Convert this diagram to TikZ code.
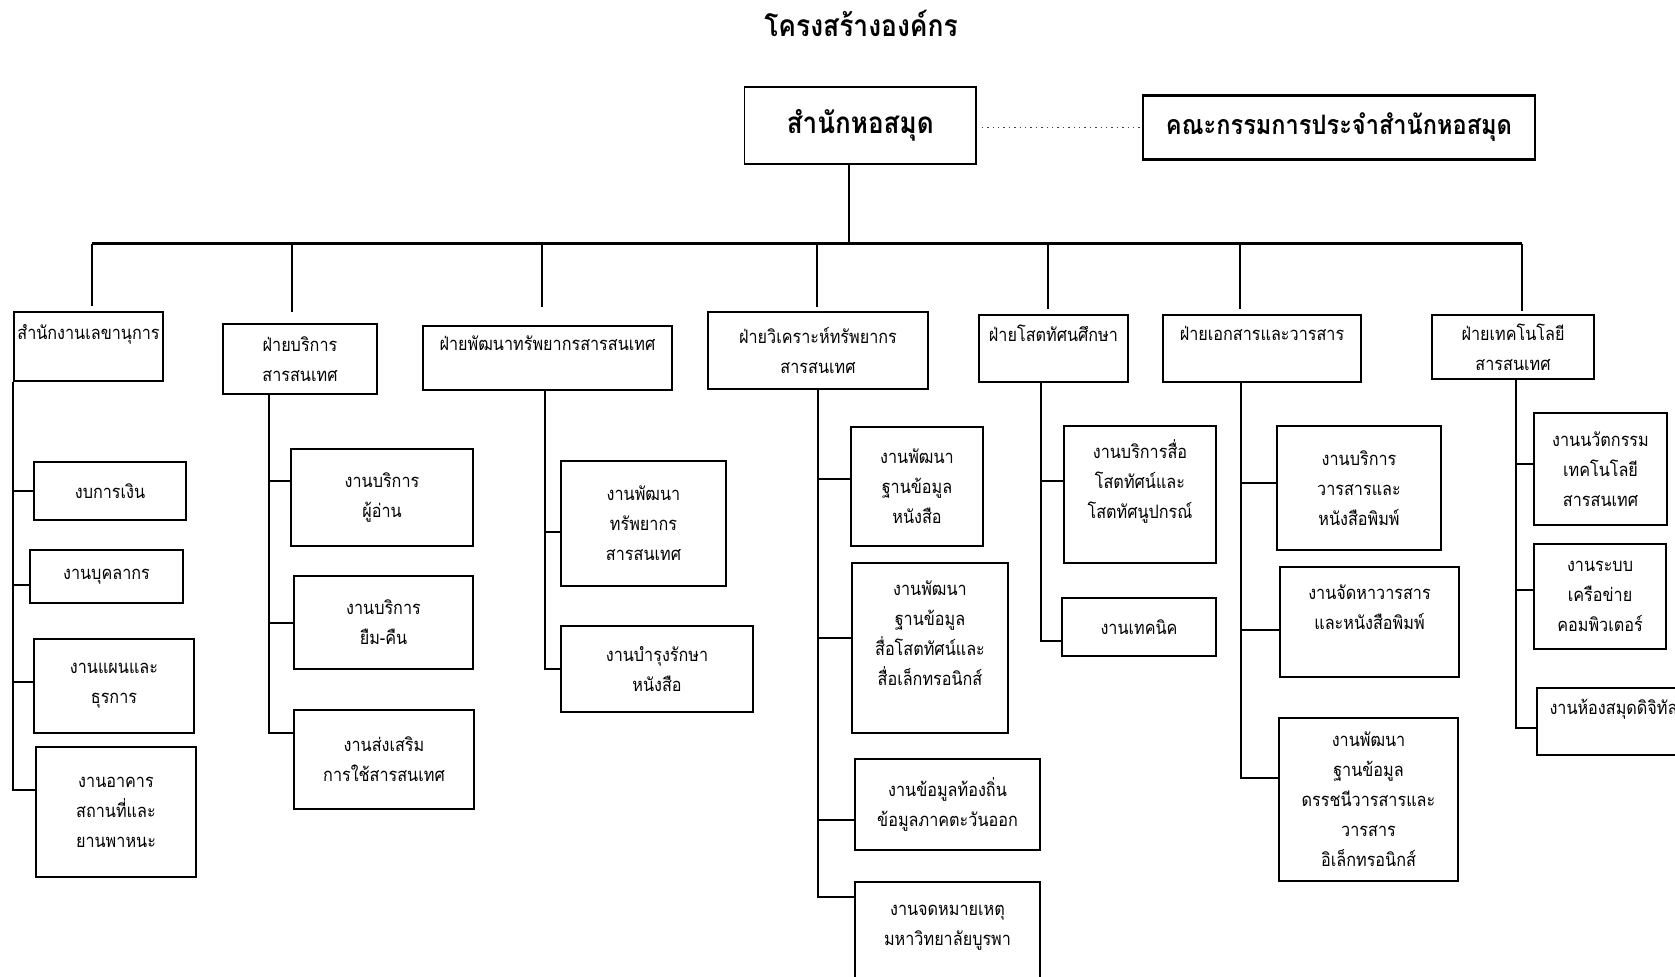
\documentclass[tikz,border=0pt]{standalone}
\usepackage{fontspec}
\newfontfamily\thaifont[Script=Thai, FakeStretch=0.88]{Loma}
\tikzset{
    %Define style for boxes
    unit/.style={
           rectangle,
           draw=black, line width=0.9pt,
           inner sep=1pt,
           font=\thaifont\fontsize{9.2}{15}\selectfont,
           align=center},
    headunit/.style={
           rectangle,
           draw=black, line width=0.7pt,
           inner sep=1pt,
           font=\thaifont\bfseries\fontsize{14.8}{18}\selectfont,
           align=center},
    heading/.style={
           font=\thaifont\bfseries\fontsize{15}{18}\selectfont},
    % Define line styles
    link/.style={line width=1pt},
    bus/.style={line width=1.3pt},
    dotline/.style={dotted, line width=0.7pt, black!75}
}
\begin{document}
\begin{tikzpicture}[x=0.5pt,y=-0.5pt]
\useasboundingbox (0,0) rectangle (1675,976);

 %nodes
\node[heading] (title) at (861,23.5) {โครงสร้างองค์กร};
\node[headunit, minimum width=115.75pt, minimum height=37.9pt] (root) at (860.25,125.5) {สำนักหอสมุด};
\node[headunit, minimum width=196pt, minimum height=31.5pt, font=\thaifont\bfseries\fontsize{13.4}{18}\selectfont] (comm) at (1339,127.5) {คณะกรรมการประจำสำนักหอสมุด};

\node[unit, minimum width=74.5pt, minimum height=34.5pt] (d1) at (88.5,346.5) {สำนักงานเลขานุการ\\~};
\node[unit, minimum width=77pt, minimum height=35pt] (d2) at (300,359) {ฝ่ายบริการ\\สารสนเทศ};
\node[unit, minimum width=124.5pt, minimum height=32pt] (d3) at (547.5,358) {ฝ่ายพัฒนาทรัพยากรสารสนเทศ\\~};
\node[unit, minimum width=110pt, minimum height=38.5pt] (d4) at (818,350.5) {ฝ่ายวิเคราะห์ทรัพยากร\\สารสนเทศ};
\node[unit, minimum width=74.5pt, minimum height=33.5pt] (d5) at (1053.5,348.5) {ฝ่ายโสตทัศนศึกษา\\~};
\node[unit, minimum width=99pt, minimum height=33.5pt] (d6) at (1262,348.5) {ฝ่ายเอกสารและวารสาร\\~};
\node[unit, minimum width=81pt, minimum height=32pt] (d7) at (1513,347) {ฝ่ายเทคโนโลยี\\สารสนเทศ};

\node[unit, minimum width=76pt, minimum height=29pt] (c11) at (110,491) {งบการเงิน};
\node[unit, minimum width=76.5pt, minimum height=26.5pt] (c12) at (106.5,576.5) {งานบุคลากร};
\node[unit, minimum width=80pt, minimum height=47pt] (c13) at (114,686) {งานแผนและ\\ธุรการ};
\node[unit, minimum width=80pt, minimum height=65pt] (c14) at (116,812) {งานอาคาร\\สถานที่และ\\ยานพาหนะ};

\node[unit, minimum width=91pt, minimum height=48.5pt] (c21) at (382,497.5) {งานบริการ\\ผู้อ่าน};
\node[unit, minimum width=89.5pt, minimum height=46.5pt] (c22) at (383.5,622.5) {งานบริการ\\ยืม-คืน};
\node[unit, minimum width=90pt, minimum height=49.5pt] (c23) at (384,759.5) {งานส่งเสริม\\การใช้สารสนเทศ};

\node[unit, minimum width=82.5pt, minimum height=62.5pt] (c31) at (643.5,523.5) {งานพัฒนา\\ทรัพยากร\\สารสนเทศ};
\node[unit, minimum width=96pt, minimum height=43pt] (c32) at (657,669) {งานบำรุงรักษา\\หนังสือ};

\node[unit, minimum width=66pt, minimum height=59.5pt] (c41) at (917,486.5) {งานพัฒนา\\ฐานข้อมูล\\หนังสือ};
\node[unit, minimum width=78pt, minimum height=85pt] (c42) at (930,648) {งานพัฒนา\\ฐานข้อมูล\\สื่อโสตทัศน์และ\\สื่อเล็กทรอนิกส์\\~};
\node[unit, minimum width=92.5pt, minimum height=45.5pt] (c43) at (947.5,804.5) {งานข้อมูลท้องถิ่น\\ข้อมูลภาคตะวันออก};
\node[unit, minimum width=92.5pt, minimum height=58pt] (c44) at (947.5,940) {งานจดหมายเหตุ\\มหาวิทยาลัยบูรพา\\~};

\node[unit, minimum width=76pt, minimum height=68.5pt] (c51) at (1140,494.5) {งานบริการสื่อ\\โสตทัศน์และ\\โสตทัศนูปกรณ์\\~};
\node[unit, minimum width=77pt, minimum height=29pt] (c52) at (1139,627) {งานเทคนิค};

\node[unit, minimum width=82pt, minimum height=62pt] (c61) at (1359,488) {งานบริการ\\วารสารและ\\หนังสือพิมพ์};
\node[unit, minimum width=89.5pt, minimum height=55pt] (c62) at (1369.5,622) {งานจัดหาวารสาร\\และหนังสือพิมพ์\\~};
\node[unit, minimum width=89.5pt, minimum height=81.5pt] (c63) at (1368.5,799.5) {งานพัฒนา\\ฐานข้อมูล\\ดรรชนีวารสารและ\\วารสาร\\อิเล็กทรอนิกส์};

\node[unit, minimum width=66.5pt, minimum height=56pt] (c71) at (1600.5,469) {งานนวัตกรรม\\เทคโนโลยี\\สารสนเทศ};
\node[unit, minimum width=66pt, minimum height=52.5pt] (c72) at (1600,596.5) {งานระบบ\\เครือข่าย\\คอมพิวเตอร์};
\node[unit, minimum width=76.5pt, minimum height=33.5pt] (c73) at (1613.5,721.5) {งานห้องสมุดดิจิทัล\\~};

 %heavy rules of the two top boxes
\draw[line width=1.3pt] (root.north west) -- (root.north east);
\draw[line width=1.3pt] (root.south west) -- (root.south east);
\draw[line width=1.3pt] (comm.north west) -- (comm.north east);
\draw[line width=1.3pt] (comm.south west) -- (comm.south east);

 %connectors
\draw[dotline, shorten <=2.5pt, shorten >=1pt] (comm.west -| root.east) -- (comm.west);
\coordinate (r) at (849,243.5);
\draw[link] (r |- root.south) -- (r);

\foreach \i/\x/\g in {1/91.7/2.5pt, 2/292/5.5pt, 3/541.5/9pt, 4/817/2pt,
                      5/1048/2.5pt, 6/1240/2.5pt, 7/1522/1.5pt}
  {\coordinate (b\i) at (\x,243.5);
   \draw[link, shorten >=\g] (b\i) -- (b\i |- d\i.north);}
\draw[bus] (b1) -- (b7);

\coordinate (t1) at (13,0);
\coordinate (t2) at (269,0);
\coordinate (t3) at (544.5,0);
\coordinate (t4) at (818,0);
\coordinate (t5) at (1041,0);
\coordinate (t6) at (1241,0);
\coordinate (t7) at (1516,0);

\foreach \c/\t/\s in {c11/1/0, c12/1/-4.25, c13/1/2, c14/1/11,
                      c21/2/8.25, c22/2/0, c23/2/13.25,
                      c31/3/-4.25, c32/3/0,
                      c41/4/4, c42/4/5, c43/4/-7.75, c44/4/21.5,
                      c51/5/6.75, c52/5/-7,
                      c61/6/2.5, c62/6/-4, c63/6/10.75,
                      c71/7/2.5, c72/7/3.25, c73/7/-3.25}
  \draw[link] (t\t |- d\t.south) |- ([yshift=\s pt]\c.west);

\end{tikzpicture}
\end{document}
